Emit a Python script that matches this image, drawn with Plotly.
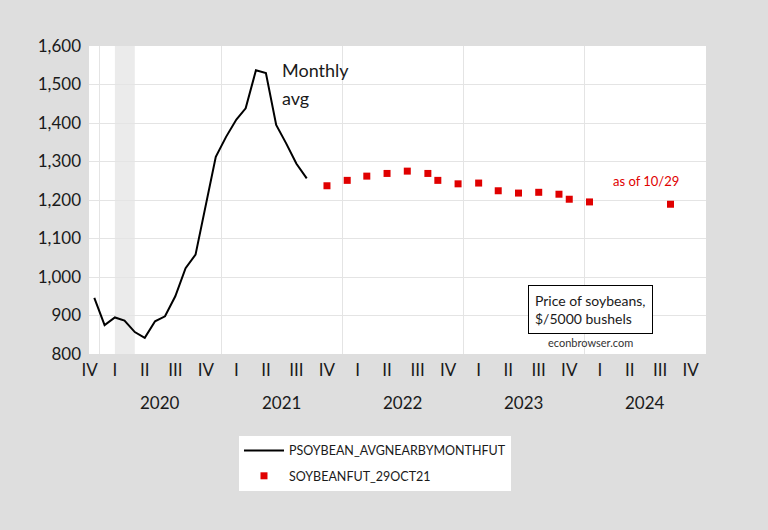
import plotly.graph_objects as go

# ---- data ----
hist_months = ["2019-12-15", "2020-01-15", "2020-02-15", "2020-03-15", "2020-04-15",
               "2020-05-15", "2020-06-15", "2020-07-15", "2020-08-15", "2020-09-15",
               "2020-10-15", "2020-11-15", "2020-12-15", "2021-01-15", "2021-02-15",
               "2021-03-15", "2021-04-15", "2021-05-15", "2021-06-15", "2021-07-15",
               "2021-08-15", "2021-09-15"]
hist_values = [946, 875, 895, 887, 857, 842, 885, 898, 950, 1023, 1058, 1185,
               1312, 1364, 1409, 1438, 1537, 1530, 1395, 1347, 1294, 1256]

fut_months = ["2021-11-15", "2022-01-15", "2022-03-15", "2022-05-15", "2022-07-15",
              "2022-09-15", "2022-10-15", "2022-12-15", "2023-02-15", "2023-04-15",
              "2023-06-15", "2023-08-15", "2023-10-15", "2023-11-15", "2024-01-15",
              "2024-09-15"]
fut_values = [1237, 1251, 1262, 1269, 1275, 1269, 1251, 1242, 1244, 1224,
              1218, 1220, 1215, 1202, 1195, 1189]

quarter_ticks = ["2019-12-01",
                 "2020-02-15", "2020-05-15", "2020-08-15", "2020-11-15",
                 "2021-02-15", "2021-05-15", "2021-08-15", "2021-11-15",
                 "2022-02-15", "2022-05-15", "2022-08-15", "2022-11-15",
                 "2023-02-15", "2023-05-15", "2023-08-15", "2023-11-15",
                 "2024-02-15", "2024-05-15", "2024-08-15", "2024-11-15"]
quarter_labels = ["IV"] + ["I", "II", "III", "IV"] * 5
years = ["2020", "2021", "2022", "2023", "2024"]
y_ticks = [800, 900, 1000, 1100, 1200, 1300, 1400, 1500, 1600]

recession = ("2020-02-15", "2020-04-15")

FONT = "Lato"
TXT = "#1a1a1a"

fig = go.Figure()
fig.add_trace(go.Scatter(x=hist_months, y=hist_values, mode="lines",
                         name="PSOYBEAN_AVGNEARBYMONTHFUT", legendgroup="a",
                         line=dict(color="black", width=2)))
fig.add_trace(go.Scatter(x=fut_months, y=fut_values, mode="markers",
                         name="SOYBEANFUT_29OCT21", legendgroup="b",
                         marker=dict(color="#e00000", size=7, symbol="square")))

fig.add_shape(type="rect", xref="x", yref="paper", x0=recession[0], x1=recession[1],
              y0=0, y1=1, fillcolor="#ebebeb", line=dict(width=0), layer="below")

for yr in years:
    fig.add_annotation(x=f"{yr}-07-01", y=-0.158, xref="x", yref="paper",
                       text=yr, showarrow=False, xanchor="center", yanchor="middle",
                       font=dict(family=FONT, size=17, color=TXT))

fig.add_annotation(x="2021-06-27", y=1537, xref="x", yref="y", text="Monthly",
                   showarrow=False, xanchor="left", yanchor="middle",
                   font=dict(family=FONT, size=18, color=TXT))
fig.add_annotation(x="2021-06-27", y=1466, xref="x", yref="y", text="avg",
                   showarrow=False, xanchor="left", yanchor="middle",
                   font=dict(family=FONT, size=18, color=TXT))
fig.add_annotation(x="2024-03-20", y=1250, xref="x", yref="y", text="as of 10/29",
                   showarrow=False, xanchor="left", yanchor="middle",
                   font=dict(family=FONT, size=13, color="#e00000"))
fig.add_annotation(x=0.8136, y=0.1438, xref="paper", yref="paper",
                   xanchor="center", yanchor="middle",
                   text="Price of soybeans,<br>$/5000 bushels", align="left",
                   showarrow=False, bgcolor="white", bordercolor="black",
                   borderwidth=1, borderpad=6,
                   font=dict(family=FONT, size=14, color=TXT))
fig.add_annotation(x=0.812, y=0.037, xref="paper", yref="paper",
                   xanchor="center", yanchor="middle",
                   text="econbrowser.com", showarrow=False,
                   font=dict(family=FONT, size=11, color="#333333"))

fig.update_layout(
    width=768, height=530,
    margin=dict(l=89, r=62, t=46, b=176),
    paper_bgcolor="#dedede", plot_bgcolor="white",
    font=dict(family=FONT, color=TXT),
    showlegend=True,
    legend=dict(x=0.2431, y=-0.266, xanchor="left", yanchor="top",
                bgcolor="white", borderwidth=0, itemwidth=40,
                traceorder="grouped", tracegroupgap=6,
                font=dict(family=FONT, size=12.5, color=TXT)),
    xaxis=dict(type="date", range=["2019-11-29", "2024-12-31"],
               tickvals=quarter_ticks, ticktext=quarter_labels,
               showgrid=False, ticks="", zeroline=False, showline=False,
               tickfont=dict(family=FONT, size=17, color=TXT),
               ticklabelstandoff=4,
               minor=dict(showgrid=True, dtick="M12", tick0="2020-01-01",
                          gridcolor="#e4e4e4", gridwidth=1, ticks="")),
    yaxis=dict(range=[800, 1600], tickvals=y_ticks, tickformat=",",
               showgrid=True, gridcolor="#e4e4e4", gridwidth=1,
               zeroline=False, showline=False, ticks="",
               ticklabelstandoff=7,
               tickfont=dict(family=FONT, size=17, color=TXT)),
)

fig.write_html("out.html", config={"displayModeBar": False},
               post_script="document.body.style.margin='0';")
